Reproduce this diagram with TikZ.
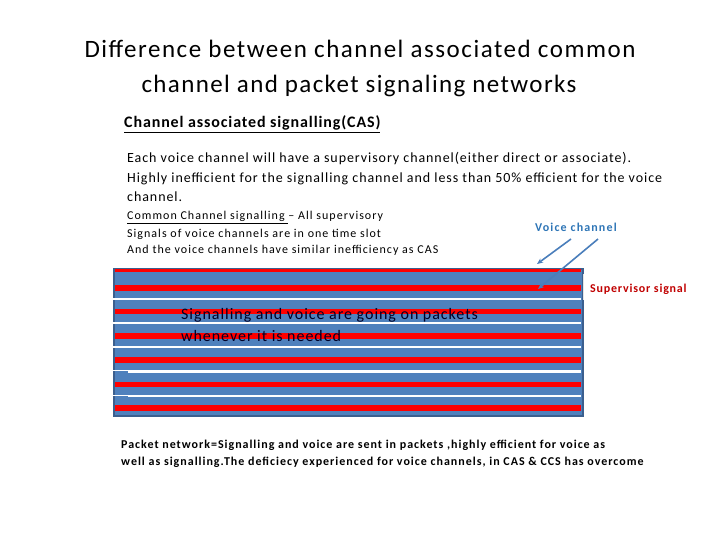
\documentclass[tikz,border=0pt]{standalone}
\usepackage{fontspec}
\setmainfont{Carlito}
\usetikzlibrary{arrows.meta}
\definecolor{chblue}{HTML}{4F81BD}
\definecolor{chborder}{HTML}{3C5F8E}
\definecolor{chred}{HTML}{FF0000}
\definecolor{arrowblue}{HTML}{4A7EBB}
\definecolor{labelblue}{HTML}{2E75B6}
\definecolor{suptext}{HTML}{C00000}
\newcommand{\lsp}[1]{\addfontfeature{LetterSpace=#1}}
\tikzset{
  txt/.style={anchor=base west, inner sep=0pt, align=left},
  redline/.style={chred, line width=5.5pt},
  whiteline/.style={white, line width=2.3pt},
  pointer/.style={arrowblue, line width=1.6pt, -{Stealth[length=6pt,width=5pt]}},
}
\begin{document}
\begin{tikzpicture}[x=1pt,y=-1pt]
\useasboundingbox (0,0) rectangle (720,540);
% title
\node[anchor=base, inner sep=0pt, font=\fontsize{25}{28}\selectfont\lsp{6.1}] (t1) at (360,58) {Difference between channel associated common};
\node[anchor=base, inner sep=0pt, font=\fontsize{25}{28}\selectfont\lsp{5.5}] (t2) at (359,93) {channel and packet signaling networks};
% CAS header
\node[txt, font=\fontsize{16}{18}\selectfont\bfseries\lsp{5.5}] (cas) at (124,128) {\underline{Channel associated signalling(CAS)}};
\node[txt, font=\fontsize{14}{19.5}\selectfont\lsp{6.7}] (p1) at (127,163) {Each voice channel will have a supervisory channel(either direct or associate).};
\node[txt, font=\fontsize{14}{19.5}\selectfont\lsp{6.7}] (p2) at (127,182.5) {Highly inefficient for the signalling channel and less than 50\% efficient for the voice};
\node[txt, font=\fontsize{14}{19.5}\selectfont\lsp{6.7}] (p3) at (127,202) {channel.};
\node[txt, font=\fontsize{12}{16}\selectfont\lsp{8.5}] (c1) at (127,220) {\underline{Common Channel signalling }-- All supervisory};
\node[txt, font=\fontsize{12}{16}\selectfont\lsp{8.5}] (c2) at (127,237) {Signals of voice channels are in one time slot};
\node[txt, font=\fontsize{12}{16}\selectfont\lsp{8.5}] (c3) at (127,253) {And the voice channels have similar inefficiency as CAS};
% stripes block
\node[draw=chborder, fill=chblue, line width=1.8pt, minimum width=469pt, minimum height=147pt, anchor=north west, inner sep=0pt] (blk) at (113,268) {};
\draw[redline, line width=3pt] (115,270.5) -- (581,270.5);
\foreach \y in {288,311.5,336,360,384.5,408} {
  \draw[redline] (115,\y) -- (581,\y);
}
\foreach \y in {299,323,347} {
  \draw[whiteline] (113,\y) -- (581,\y);
}
\foreach \y in {371.5,396} {
  \draw[white, line width=1pt] (113,\y-0.6) -- (128,\y-0.6);
  \draw[whiteline] (128,\y) -- (581,\y);
}
\draw[white!80!gray, line width=0.8pt] (583.5,274) -- (583.5,300);
% packet text
\node[txt, text=black!85!blue, font=\fontsize{16}{21}\selectfont\lsp{6}] (pk1) at (181,319) {Signalling and voice are going on packets};
\node[txt, text=black!85!blue, font=\fontsize{16}{21}\selectfont\lsp{6}] (pk2) at (181,341) {whenever it is needed};
% labels
\node[txt, text=labelblue, font=\fontsize{12}{14}\selectfont\bfseries\lsp{9.5}] (vc) at (535,232) {Voice channel};
\node[txt, text=suptext, font=\fontsize{12}{14}\selectfont\bfseries\lsp{6.6}] (ss) at (590,292) {Supervisor signal};
\coordinate (a1s) at (571,239);
\coordinate (a1e) at (537,264);
\coordinate (a2s) at (598,239);
\coordinate (a2e) at (538,289);
\draw[pointer] (a1s) -- (a1e);
\draw[pointer] (a2s) -- (a2e);
% bottom text
\node[txt, font=\fontsize{12}{17}\selectfont\bfseries\lsp{8.1}] (b1) at (121,448) {Packet network=Signalling and voice are sent in packets ,highly efficient for voice as};
\node[txt, font=\fontsize{12}{17}\selectfont\bfseries\lsp{8.2}] (b2) at (121,465) {well as signalling.The deficiecy experienced for voice channels, in CAS \& CCS has overcome};
\end{tikzpicture}
\end{document}
